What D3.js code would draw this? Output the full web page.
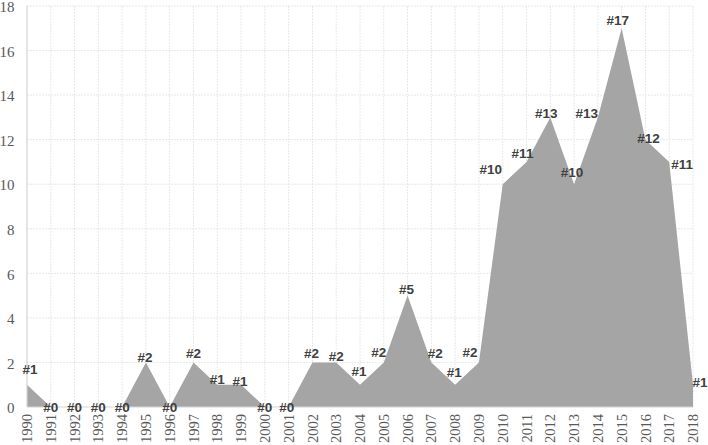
<!DOCTYPE html>
<html lang="en">
<head>
<meta charset="utf-8">
<title>Publications per year</title>
<style type="text/css">
  body { margin: 0; background: #fff; }
  .grid line { stroke: #e8e8e8; stroke-width: 1; stroke-dasharray: 2,1; }
  .axisline { stroke: #d4d4d4; stroke-width: 1.2; }
  .ylab, .xlab { font-family: "Liberation Serif", "Times New Roman", serif; fill: #595959; }
  .ylab { font-size: 15px; }
  .xlab { font-size: 14.5px; }
  .dlab { font-family: "Liberation Sans", Arial, sans-serif; font-weight: bold; font-size: 13.5px; fill: #404040; }
</style>
</head>
<body>
<svg width="708" height="445"></svg>
<script src="https://d3js.org/d3.v7.min.js"></script>
<script>

var years = [1990,1991,1992,1993,1994,1995,1996,1997,1998,1999,
             2000,2001,2002,2003,2004,2005,2006,2007,2008,2009,
             2010,2011,2012,2013,2014,2015,2016,2017,2018];
var counts = [1,0,0,0,0,2,0,2,1,1,
              0,0,2,2,1,2,5,2,1,2,
              10,11,13,10,13,17,12,11,1];
var yTicks = [0,2,4,6,8,10,12,14,16,18];

// where each data label sits relative to its point (label centre), as in the original
var labelNudge = [[3,-16],[0,0],[0,0],[0,0],[0,0],[-1,-5],[0,0],[0,-9],[0,-6],[-1,-4],
                  [0,0],[-2,0],[-1,-9],[0,-6],[-1,-14],[-5,-10],[-1,-6],[4,-9],[-1,-13],[-9,-10],
                  [-12,-15],[-4,-9],[-4,-4],[-2,-12],[-11,-4],[-4,-8],[3,-2],[13,2],[7,-3]];

var svg = d3.select("svg");

var x = d3.scaleLinear().domain([1990, 2018]).range([27, 693]);
var y = d3.scaleLinear().domain([0, 18]).range([407, 6]);

// grid
var grid = svg.append("g").attr("class", "grid");
grid.selectAll("line.h")
    .data(yTicks.filter(function(d) { return d > 0; }))
  .enter().append("line")
    .attr("class", "h")
    .attr("x1", x(1990)).attr("x2", x(2018))
    .attr("y1", function(d) { return y(d); })
    .attr("y2", function(d) { return y(d); });
grid.selectAll("line.v")
    .data(years.slice(1))
  .enter().append("line")
    .attr("class", "v")
    .attr("x1", function(d) { return x(d); })
    .attr("x2", function(d) { return x(d); })
    .attr("y1", y(18)).attr("y2", y(0));

// area
var data = years.map(function(d, i) { return {year: d, n: counts[i]}; });

var area = d3.area()
    .x(function(d) { return x(d.year); })
    .y0(y(0))
    .y1(function(d) { return y(d.n); });

svg.append("path")
    .datum(data)
    .attr("fill", "#a5a5a5")
    .attr("d", area);

// axis lines
svg.append("line").attr("class", "axisline")
    .attr("x1", x(1990)).attr("x2", x(1990))
    .attr("y1", y(18)).attr("y2", y(0));
svg.append("line").attr("class", "axisline")
    .attr("x1", x(1990)).attr("x2", x(2018))
    .attr("y1", y(0)).attr("y2", y(0));

// y tick labels
svg.selectAll("text.ylab")
    .data(yTicks)
  .enter().append("text")
    .attr("class", "ylab")
    .attr("x", 14.5)
    .attr("y", function(d) { return y(d) + 1; })
    .attr("dy", "0.35em")
    .attr("text-anchor", "end")
    .text(function(d) { return d; });

// x tick labels, rotated
svg.selectAll("text.xlab")
    .data(years)
  .enter().append("text")
    .attr("class", "xlab")
    .attr("transform", function(d) { return "translate(" + x(d) + ",414) rotate(-90)"; })
    .attr("dy", "0.35em")
    .attr("text-anchor", "end")
    .text(function(d) { return d; });

// data labels
svg.selectAll("text.dlab")
    .data(data)
  .enter().append("text")
    .attr("class", "dlab")
    .attr("x", function(d, i) { return x(d.year) + labelNudge[i][0]; })
    .attr("y", function(d, i) { return y(d.n) + labelNudge[i][1]; })
    .attr("dy", "0.36em")
    .attr("text-anchor", "middle")
    .text(function(d) { return "#" + d.n; });

</script>
</body>
</html>
